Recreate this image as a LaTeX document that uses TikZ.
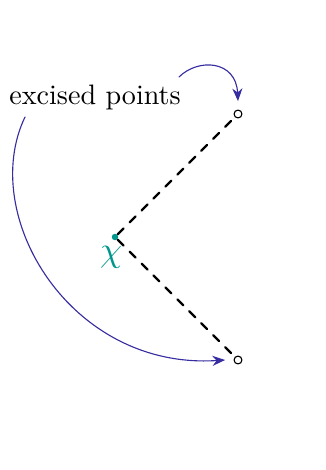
\documentclass[tikz,border=0pt]{standalone}
\usetikzlibrary{positioning,arrows.meta}
\definecolor{tealpt}{RGB}{0,150,140}
\definecolor{arrblue}{RGB}{55,45,160}
\begin{document}
\begin{tikzpicture}[x=0.0125cm,y=-0.0125cm,line join=round, line cap=round,>={Stealth[length=4.5pt,width=3.6pt]}]
	\tikzset{hole/.style={circle,draw,fill=white,inner sep=0pt,minimum size=2.8pt},
		curvearrow/.style={->,arrblue,thin}}
	\useasboundingbox (0,0) rectangle (326,470);
	\node[circle,fill=tealpt,inner sep=0pt,minimum size=2.3pt] (x) at (115,237) {};
	\node[text=tealpt,scale=1.25] (chi) at (111,257) {$\chi$};
	\node[hole] (p1) at (238,114) {};
	\node[hole] (p2) at (238,360) {};
	\draw[dashed,thick] (x) -- (p1);
	\draw[dashed,thick] (x) -- (p2);
	\node (lab) at (95,97) {excised points};
	\draw[curvearrow] (179,77) .. controls (198,58) and (236,60) .. ([yshift=3pt]p1.north);
	\draw[curvearrow] (25,117) .. controls (-22,215) and (70,370) .. ([xshift=-3pt]p2.west);
\end{tikzpicture}
\end{document}
